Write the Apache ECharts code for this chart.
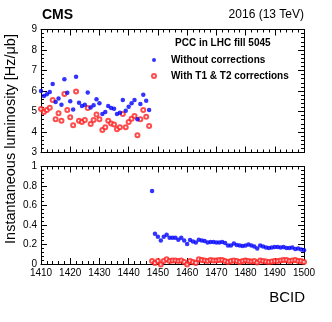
<!DOCTYPE html>
<html>
<head>
<meta charset="utf-8">
<script src="https://cdn.jsdelivr.net/npm/echarts@6/dist/echarts.min.js"></script>
<style>
html, body { margin: 0; padding: 0; background: #fff; }
#chart { width: 332px; height: 322px; }
</style>
</head>
<body>
<div id="chart"></div>
<script>
// BCID range of the train
const bcidFirst = 1410;
const bcidLast = 1500;

// luminosity per bunch [Hz/ub], BCID 1410 .. 1500
const withoutCorrections = [
  6.00, 5.76, 5.84, 5.95, 6.34, 5.46, 5.64, 5.33, 6.57, 5.92,
  5.50, 5.10, 6.70, 5.43, 5.27, 5.33, 5.93, 5.20, 5.30, 5.60,
  5.40, 4.88, 4.98, 5.27, 5.17, 5.14, 4.88, 4.94, 5.56, 5.04,
  5.23, 5.40, 5.56, 4.62, 5.37, 5.82, 5.53, 5.07,
  0.75,
  0.31, 0.28, 0.24, 0.28, 0.30, 0.27, 0.27, 0.27, 0.25, 0.27,
  0.24, 0.205, 0.245, 0.23, 0.22, 0.25, 0.24, 0.235, 0.22, 0.225,
  0.225, 0.22, 0.22, 0.225, 0.215, 0.19, 0.19, 0.21, 0.195, 0.19,
  0.185, 0.19, 0.20, 0.19, 0.18, 0.16, 0.19, 0.18, 0.17, 0.165,
  0.17, 0.175, 0.175, 0.17, 0.175, 0.165, 0.165, 0.17, 0.155, 0.16,
  0.15, 0.14
];
const withCorrections = [
  5.12, 4.98, 5.07, 5.18, 5.56, 4.62, 4.91, 4.55, 5.85, 5.07,
  4.72, 4.33, 5.98, 4.55, 4.49, 4.59, 5.17, 4.39, 4.59, 4.85,
  4.62, 4.10, 4.23, 4.55, 4.42, 4.36, 4.13, 4.23, 4.88, 4.23,
  4.49, 4.65, 4.78, 3.84, 4.62, 5.07, 4.75, 4.29,
  0.03,
  0.01, 0.03, -0.005, 0.03, 0.05, 0.03, 0.035, 0.035, 0.03, 0.035,
  0.02, -0.005, 0.03, 0.02, 0.01, 0.05, 0.04, 0.035, 0.03, 0.04,
  0.035, 0.035, 0.04, 0.04, 0.03, 0.02, 0.03, 0.035, 0.03, 0.02,
  0.03, 0.035, 0.03, 0.025, 0.03, 0.015, 0.035, 0.03, 0.025, 0.02,
  0.025, 0.03, 0.03, 0.035, 0.04, 0.04, 0.03, 0.035, 0.04, 0.03,
  0.03, 0.02
];

// axis ranges and tick steps of the two panels
const topRange = [3, 9], topStep = 1;
const bottomRange = [0, 1], bottomStep = 0.2;

const bcid = [];
for (let b = bcidFirst; b <= bcidLast; b++) bcid.push(b);

const FONT = '"Liberation Sans", Arial, Helvetica, sans-serif';
const BLACK = '#000';

function xAxisDef(grid, pos, labels){
  return {
    type: 'value', gridIndex: grid, position: pos,
    min: bcidFirst, max: bcidLast, interval: 10,
    axisLine: { show: true, onZero: false, lineStyle: { color: BLACK, width: 1 } },
    axisTick: { show: true, inside: true, length: 6, lineStyle: { color: BLACK, width: 1 } },
    minorTick: { show: true, splitNumber: 5, length: 3, lineStyle: { color: BLACK, width: 1 } },
    axisLabel: { show: labels, color: BLACK, fontSize: 10, fontFamily: FONT, margin: 4,
                 showMinLabel: true, showMaxLabel: true, formatter: v => String(v) },
    splitLine: { show: false }
  };
}

function yAxisDef(grid, pos, range, step, labels){
  return {
    type: 'value', gridIndex: grid, position: pos,
    min: range[0], max: range[1], interval: step,
    axisLine: { show: true, onZero: false, lineStyle: { color: BLACK, width: 1 } },
    axisTick: { show: true, inside: true, length: 6, lineStyle: { color: BLACK, width: 1 } },
    minorTick: { show: true, splitNumber: 5, length: 3, lineStyle: { color: BLACK, width: 1 } },
    axisLabel: { show: labels, color: BLACK, fontSize: 10, fontFamily: FONT, margin: 4,
                 showMinLabel: true, showMaxLabel: true,
                 formatter: v => String(Math.round(v * 10) / 10) },
    splitLine: { show: false }
  };
}

// points of one series that belong to a panel
function pts(vals, range){
  const out = [];
  bcid.forEach((b, i) => {
    if (vals[i] >= range[0] - 0.1 && vals[i] <= range[1] + 0.1) out.push([b, vals[i]]);
  });
  return out;
}

function seriesFor(xi, yi, range, clip){
  return [{
    name: 'With T1 & T2 corrections', type: 'scatter', xAxisIndex: xi, yAxisIndex: yi,
    data: pts(withCorrections, range), symbol: 'emptyCircle', symbolSize: 4, clip: clip,
    itemStyle: { color: '#ff2020', borderColor: '#ff2020', borderWidth: 1 }, z: 2
  }, {
    name: 'Without corrections', type: 'scatter', xAxisIndex: xi, yAxisIndex: yi,
    data: pts(withoutCorrections, range), symbol: 'circle', symbolSize: 4.5, clip: clip,
    itemStyle: { color: '#0000ff' }, z: 3
  }];
}

const myChart = echarts.init(document.getElementById('chart'), null, { renderer: 'canvas' });
myChart.setOption({
  animation: false,
  backgroundColor: '#fff',
  grid: [
    { left: 41, top: 29.5, width: 263, height: 123 },
    { left: 41, top: 166.5, width: 263, height: 97.5 }
  ],
  xAxis: [
    xAxisDef(0, 'bottom', false),
    xAxisDef(0, 'top', false),
    xAxisDef(1, 'bottom', true),
    xAxisDef(1, 'top', false)
  ],
  yAxis: [
    yAxisDef(0, 'left', topRange, topStep, true),
    yAxisDef(0, 'right', topRange, topStep, false),
    yAxisDef(1, 'left', bottomRange, bottomStep, true),
    yAxisDef(1, 'right', bottomRange, bottomStep, false)
  ],
  legend: {
    left: 146, top: 50, orient: 'vertical',
    itemWidth: 24, itemHeight: 4, itemGap: 6,
    selectedMode: false,
    data: ['Without corrections', 'With T1 & T2 corrections'],
    textStyle: { fontSize: 10, fontWeight: 'bold', color: BLACK, fontFamily: FONT }
  },
  series: [].concat(seriesFor(0, 0, topRange, true), seriesFor(2, 2, bottomRange, false)),
  graphic: [
    { type: 'text', x: 42, y: 15, style: { text: 'CMS', font: 'bold 14px ' + FONT, fill: BLACK, verticalAlign: 'middle' } },
    { type: 'text', x: 304, y: 15, style: { text: '2016 (13 TeV)', font: '12px ' + FONT, fill: BLACK, align: 'right', verticalAlign: 'middle' } },
    { type: 'text', x: 175, y: 43, style: { text: 'PCC in LHC fill 5045', font: 'bold 10px ' + FONT, fill: BLACK, verticalAlign: 'middle' } },
    { type: 'text', x: 11, y: 139, rotation: Math.PI / 2,
      style: { text: 'Instantaneous luminosity [Hz/\u03bcb]', font: '14.5px ' + FONT, fill: BLACK, align: 'center', verticalAlign: 'middle' } },
    { type: 'text', x: 305, y: 298, style: { text: 'BCID', font: '15px ' + FONT, fill: BLACK, align: 'right', verticalAlign: 'middle' } }
  ]
});
</script>
</body>
</html>
